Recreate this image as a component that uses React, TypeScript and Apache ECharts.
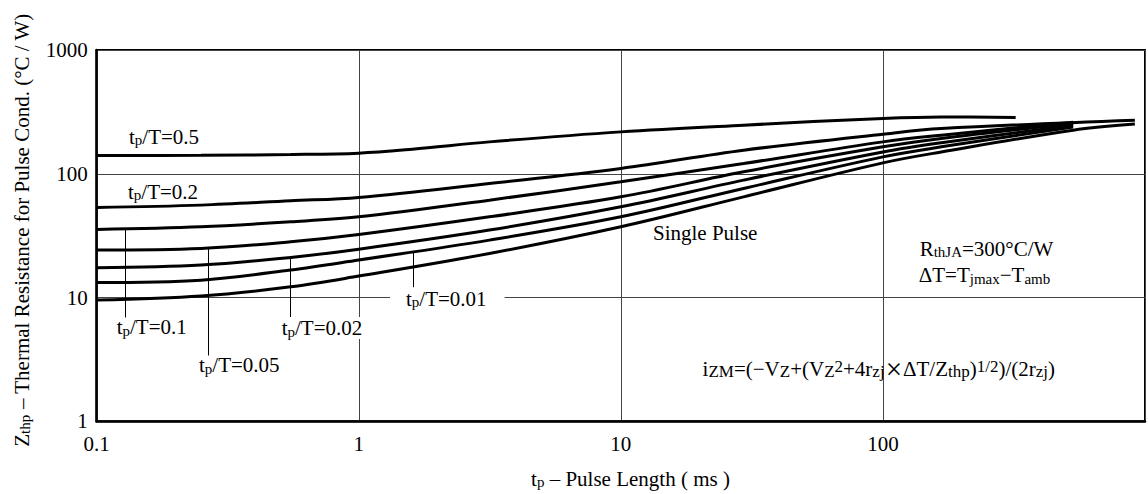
import React, { useEffect, useRef } from 'react';
import * as echarts from 'echarts';

// ---- data ----
const xTickValues = [0.1, 1, 10, 100];
const yTickValues = [1, 10, 100, 1000];

const curveLabels = ['tp/T=0.5', 'tp/T=0.2', 'tp/T=0.1', 'tp/T=0.05', 'tp/T=0.02', 'tp/T=0.01', 'Single Pulse'];

const c05X = [0.1, 0.25, 0.55, 1, 1.6, 3.15, 10, 29.4, 100, 167, 321];
const c05Y = [140.6, 141, 143, 146.8, 158, 181, 218, 247, 280, 288, 285];

const c02X = [0.1, 0.25, 0.55, 1, 3.15, 10, 29.4, 100, 167, 915];
const c02Y = [53.5, 55.8, 60.5, 64.4, 83.5, 110.5, 155, 209, 232, 271];

const c01X = [0.1, 0.25, 0.55, 1, 3.15, 10, 29.4, 100, 167, 532];
const c01Y = [35.5, 37.3, 40.9, 44.9, 61.2, 86.1, 121, 181, 205, 261];

const c005X = [0.1, 0.25, 0.55, 1, 3.15, 10, 29.4, 100, 167, 532];
const c005Y = [24.2, 24.9, 28.2, 32.3, 44.9, 65.1, 103.7, 165, 193, 255];

const c002X = [0.1, 0.25, 0.55, 1, 3.15, 10, 29.4, 100, 167, 532];
const c002Y = [17.4, 18.3, 21.1, 24.6, 35.1, 54.1, 88.8, 150, 178, 247];

const c001X = [0.1, 0.25, 0.55, 1, 3.15, 10, 29.4, 100, 167, 532];
const c001Y = [13.2, 13.8, 16.7, 20.1, 29.1, 44.9, 76.1, 137, 165, 239];

const singleX = [0.1, 0.25, 0.55, 1, 3.15, 10, 29.4, 100, 167, 532, 915];
const singleY = [9.55, 10.3, 12.2, 14.9, 22.7, 37.3, 65.1, 122.5, 150, 225, 252];

// leader lines (series index, x, top value, bottom value)
const leaderSeries = [2, 3, 4, 5];
const leaderX = [0.129, 0.266, 0.55, 1.61];
const leaderTop = [35.5, 25.0, 21.0, 23.8];
const leaderBottom = [6.9, 3.4, 6.9, 12.1];

const FONT = '"Liberation Serif", "Times New Roman", serif';

function richSet(size: number, lh: number, sub: number) {
  const subLh = lh - 10;
  return {
    m: { fontFamily: FONT, fontSize: size, lineHeight: lh, color: '#000' },
    s: { fontFamily: FONT, fontSize: sub, lineHeight: subLh, verticalAlign: 'bottom', color: '#000' },
    p: { fontFamily: FONT, fontSize: sub, lineHeight: subLh, verticalAlign: 'top', color: '#000' },
    x: { fontFamily: FONT, fontSize: size + 8, lineHeight: lh, color: '#000', padding: [0, 1, 0, 1] },
  };
}

function label(text: string, x: number, y: number, align: string, extra: any = {}) {
  return {
    type: 'text',
    x,
    y,
    z: 100,
    rotation: extra.rotation || 0,
    style: {
      text,
      rich: richSet(21, 22, extra.sub || 15),
      fontFamily: FONT,
      fontSize: 21,
      fill: '#000',
      align,
      textAlign: align,
      verticalAlign: 'middle',
      textVerticalAlign: 'middle',
      ...(extra.style || {}),
    },
  };
}

export default function App() {
  const ref = useRef<HTMLDivElement>(null);

  useEffect(() => {
    if (!ref.current) return;
    const chart = echarts.init(ref.current, undefined, { renderer: 'svg' });

    const xs = [c05X, c02X, c01X, c005X, c002X, c001X, singleX];
    const ys = [c05Y, c02Y, c01Y, c005Y, c002Y, c001Y, singleY];

    const series: any[] = xs.map((xa, i) => {
      const s: any = {
        type: 'line',
        name: curveLabels[i],
        data: xa.map((x, k) => [x, ys[i][k]]),
        smooth: 0.35,
        showSymbol: false,
        symbol: 'none',
        silent: true,
        lineStyle: { color: '#000', width: 3 },
        z: 5,
      };
      const li = leaderSeries.indexOf(i);
      if (li >= 0) {
        s.markLine = {
          silent: true,
          symbol: ['none', 'none'],
          label: { show: false },
          lineStyle: { color: '#000', width: 1, type: 'solid' },
          data: [[
            { coord: [leaderX[li], leaderTop[li]] },
            { coord: [leaderX[li], leaderBottom[li]] },
          ]],
        };
      }
      return s;
    });

    const fmt = (v: number) => Number(v.toPrecision(3));

    chart.setOption({
      animation: false,
      backgroundColor: '#fff',
      grid: {
        left: 96.7,
        top: 50,
        width: 1058.5,
        height: 371.3,
        show: true,
        borderColor: '#000',
        borderWidth: 2,
        backgroundColor: 'transparent',
      },
      xAxis: {
        type: 'log',
        logBase: 10,
        min: 0.1,
        max: 1000,
        axisLine: { show: true, lineStyle: { color: '#000', width: 2.5 } },
        axisTick: { show: false },
        axisLabel: {
          fontFamily: FONT,
          fontSize: 21,
          color: '#000',
          margin: 12,
          formatter: (v: number) => {
            const r = fmt(v);
            return xTickValues.indexOf(r) >= 0 ? String(r) : '';
          },
        },
        splitLine: { show: true, lineStyle: { color: '#444', width: 1 } },
      },
      yAxis: {
        type: 'log',
        logBase: 10,
        min: 1,
        max: 1000,
        axisLine: { show: true, lineStyle: { color: '#000', width: 2.5 } },
        axisTick: { show: false },
        axisLabel: {
          fontFamily: FONT,
          fontSize: 21,
          color: '#000',
          margin: 9,
          formatter: (v: number) => {
            const r = fmt(v);
            return yTickValues.indexOf(r) >= 0 ? String(r) : '';
          },
        },
        splitLine: { show: true, lineStyle: { color: '#444', width: 1 } },
      },
      series,
      graphic: {
        elements: [
          label('{m|t}{s|p}{m|/T=0.5}', 129, 136.5, 'left'),
          label('{m|t}{s|p}{m|/T=0.2}', 128, 191.5, 'left'),
          label('{m|t}{s|p}{m|/T=0.1}', 116.7, 327, 'left'),
          label('{m|t}{s|p}{m|/T=0.05}', 199, 365.4, 'left'),
          label('{m|t}{s|p}{m|/T=0.02}', 281.7, 328, 'left', { style: { backgroundColor: '#fff' } }),
          label('{m|t}{s|p}{m|/T=0.01}', 390, 298.7, 'left', { style: { backgroundColor: '#fff', padding: [0, 18, 0, 16] } }),
          label('{m|Single Pulse}', 653, 233, 'left'),
          label('{m|R}{s|thJA}{m|=300°C/W}', 986.5, 248.7, 'center'),
          label('{m|ΔT=T}{s|jmax}{m|−T}{s|amb}', 984.5, 275.4, 'center'),
          label('{m|i}{s|ZM}{m|=(−V}{s|Z}{m|+(V}{s|Z}{p|2}{m|+4r}{s|zj}{x|×}{m|ΔT/Z}{s|thp}{m|)}{p|1/2}{m|)/(2r}{s|zj}{m|)}', 1055, 368.7, 'right', { sub: 17 }),
          label('{m|t}{s|p}{m| – Pulse Length ( ms )}', 630.5, 478.7, 'center'),
          label('{m|Z}{s|thp}{m| – Thermal Resistance for Pulse Cond. (°C / W)}', 21.5, 230, 'center', { rotation: Math.PI / 2 }),
        ],
      },
    });

    return () => chart.dispose();
  }, []);

  return (
    <div style={{ position: 'fixed', left: 0, top: 0, width: 1148, height: 494, overflow: 'hidden', background: '#fff' }}>
      <div ref={ref} style={{ width: 1148, height: 494 }} />
    </div>
  );
}
